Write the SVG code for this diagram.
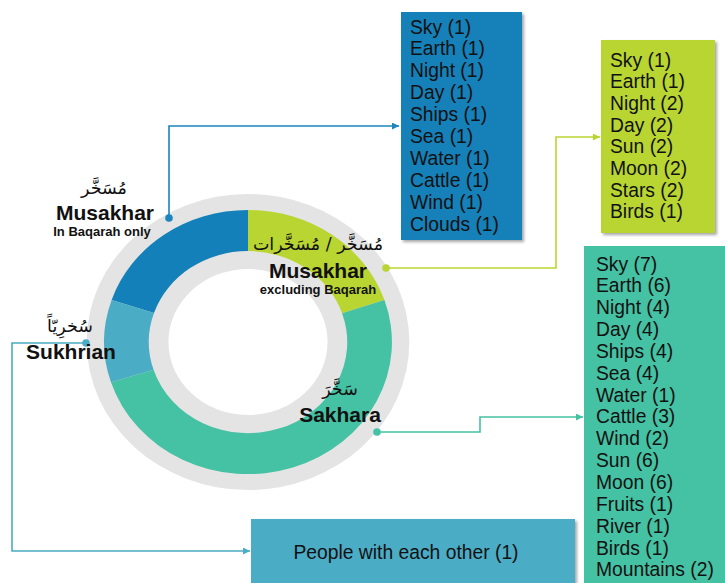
<svg xmlns="http://www.w3.org/2000/svg" width="725" height="583" viewBox="0 0 725 583">
<style>
.lbl{font-family:"Liberation Sans",Arial,sans-serif;font-weight:bold;fill:#111;text-anchor:middle}
.big{font-size:21px}
.sm{font-size:13px}
.ar{font-family:"DejaVu Sans","Noto Sans",sans-serif;font-size:17.5px;fill:#111;text-anchor:middle}
.list{font-family:"Liberation Sans",Arial,sans-serif;font-size:19.3px;fill:#111}
.conn{fill:none;stroke-width:1.6}
</style>
<defs>
<filter id="sh" x="-10%" y="-10%" width="130%" height="130%">
<feDropShadow dx="2" dy="2" stdDeviation="1.5" flood-color="#000" flood-opacity="0.35"/>
</filter>
<marker id="aBlue" markerWidth="8" markerHeight="8" refX="7" refY="3.5" orient="auto" markerUnits="userSpaceOnUse"><path d="M0,0 L7,3.5 L0,7 z" fill="#1A85BE"/></marker>
<marker id="aLime" markerWidth="8" markerHeight="8" refX="7" refY="3.5" orient="auto" markerUnits="userSpaceOnUse"><path d="M0,0 L7,3.5 L0,7 z" fill="#B9D532"/></marker>
<marker id="aTeal" markerWidth="8" markerHeight="8" refX="7" refY="3.5" orient="auto" markerUnits="userSpaceOnUse"><path d="M0,0 L7,3.5 L0,7 z" fill="#45C1A3"/></marker>
<marker id="aLight" markerWidth="8" markerHeight="8" refX="7" refY="3.5" orient="auto" markerUnits="userSpaceOnUse"><path d="M0,0 L7,3.5 L0,7 z" fill="#4BACC6"/></marker>
</defs>
<rect width="725" height="583" fill="#fff"/>

<g id="donut" transform="translate(248,342) scale(1.09,1)">
<circle r="148" fill="#E4E4E4"/>
<path id="seg-baqarah" d="M-125.11 -42.11 A132 132 0 0 1 0 -132 L0 -91 A91 91 0 0 0 -86.25 -29.03 Z" fill="#1380B9"/>
<path id="seg-musakhar" d="M0 -132 A132 132 0 0 1 125.18 -41.88 L86.30 -28.87 A91 91 0 0 0 0 -91 Z" fill="#B9D532"/>
<path id="seg-sakhara" d="M125.18 -41.88 A132 132 0 1 1 -125.68 40.35 L-86.64 27.82 A91 91 0 1 0 86.30 -28.87 Z" fill="#45C1A3"/>
<path id="seg-sukhrian" d="M-125.68 40.35 A132 132 0 0 1 -125.11 -42.11 L-86.25 -29.03 A91 91 0 0 0 -86.64 27.82 Z" fill="#4BACC6"/>
<circle r="73" fill="#fff"/>
</g>

<g id="connectors">
<path class="conn" d="M169 218 V126 H399" stroke="#1A85BE" marker-end="url(#aBlue)"/>
<circle cx="169" cy="218" r="3.8" fill="#1A85BE"/>
<path class="conn" d="M386 268 H556 V137 H600" stroke="#B9D532" marker-end="url(#aLime)"/>
<circle cx="386" cy="268" r="3.8" fill="#B9D532"/>
<path class="conn" d="M377 432 H480 V417 H583" stroke="#45C1A3" marker-end="url(#aTeal)"/>
<circle cx="377" cy="432" r="3.8" fill="#45C1A3"/>
<path class="conn" d="M86 343 H12 V551 H250" stroke="#4BACC6" marker-end="url(#aLight)"/>
<circle cx="86" cy="343" r="3.8" fill="#4BACC6"/>
</g>

<g id="label-baqarah">
<text class="ar" x="104" y="194">مُسَخَّر</text>
<text class="lbl big" x="105" y="220">Musakhar</text>
<text class="lbl sm" x="102" y="236">In Baqarah only</text>
</g>

<g id="label-musakhar">
<text class="ar" x="318" y="250">مُسَخَّر / مُسَخَّرات</text>
<text class="lbl big" x="318" y="278">Musakhar</text>
<text class="lbl sm" x="318" y="294">excluding Baqarah</text>
</g>

<g id="label-sukhrian">
<text class="ar" x="70" y="332">سُخرِيّاً</text>
<text class="lbl big" x="71" y="359">Sukhrian</text>
</g>

<g id="label-sakhara">
<text class="ar" x="340" y="395">سَخَّرَ</text>
<text class="lbl big" x="340" y="422">Sakhara</text>
</g>

<g id="box-baqarah">
<rect x="401" y="12" width="121" height="228" fill="#1380B9" filter="url(#sh)"/>
<text class="list" x="410" y="33.5">
<tspan x="410" dy="0">Sky (1)</tspan>
<tspan x="410" dy="21.9">Earth (1)</tspan>
<tspan x="410" dy="21.9">Night  (1)</tspan>
<tspan x="410" dy="21.9">Day (1)</tspan>
<tspan x="410" dy="21.9">Ships  (1)</tspan>
<tspan x="410" dy="21.9">Sea (1)</tspan>
<tspan x="410" dy="21.9">Water (1)</tspan>
<tspan x="410" dy="21.9">Cattle  (1)</tspan>
<tspan x="410" dy="21.9">Wind (1)</tspan>
<tspan x="410" dy="21.9">Clouds  (1)</tspan>
</text>
</g>

<g id="box-musakhar">
<rect x="601" y="40" width="114" height="193" fill="#B9D532" filter="url(#sh)"/>
<text class="list" x="610" y="66.5">
<tspan x="610" dy="0">Sky (1)</tspan>
<tspan x="610" dy="21.7">Earth (1)</tspan>
<tspan x="610" dy="21.7">Night  (2)</tspan>
<tspan x="610" dy="21.7">Day (2)</tspan>
<tspan x="610" dy="21.7">Sun  (2)</tspan>
<tspan x="610" dy="21.7">Moon  (2)</tspan>
<tspan x="610" dy="21.7">Stars (2)</tspan>
<tspan x="610" dy="21.7">Birds (1)</tspan>
</text>
</g>

<g id="box-sakhara">
<rect x="584" y="246" width="150" height="350" fill="#45C1A3"/>
<text class="list" x="596" y="270.5">
<tspan x="596" dy="0">Sky (7)</tspan>
<tspan x="596" dy="21.85">Earth (6)</tspan>
<tspan x="596" dy="21.85">Night  (4)</tspan>
<tspan x="596" dy="21.85">Day (4)</tspan>
<tspan x="596" dy="21.85">Ships (4)</tspan>
<tspan x="596" dy="21.85">Sea (4)</tspan>
<tspan x="596" dy="21.85">Water (1)</tspan>
<tspan x="596" dy="21.85">Cattle (3)</tspan>
<tspan x="596" dy="21.85">Wind (2)</tspan>
<tspan x="596" dy="21.85">Sun  (6)</tspan>
<tspan x="596" dy="21.85">Moon (6)</tspan>
<tspan x="596" dy="21.85">Fruits (1)</tspan>
<tspan x="596" dy="21.85">River (1)</tspan>
<tspan x="596" dy="21.85">Birds (1)</tspan>
<tspan x="596" dy="21.85">Mountains (2)</tspan>
</text>
</g>

<g id="box-sukhrian">
<rect x="251" y="519" width="324" height="80" fill="#4BACC6" filter="url(#sh)"/>
<text class="list" x="406" y="558.5" text-anchor="middle">People with each other (1)</text>
</g>
</svg>
